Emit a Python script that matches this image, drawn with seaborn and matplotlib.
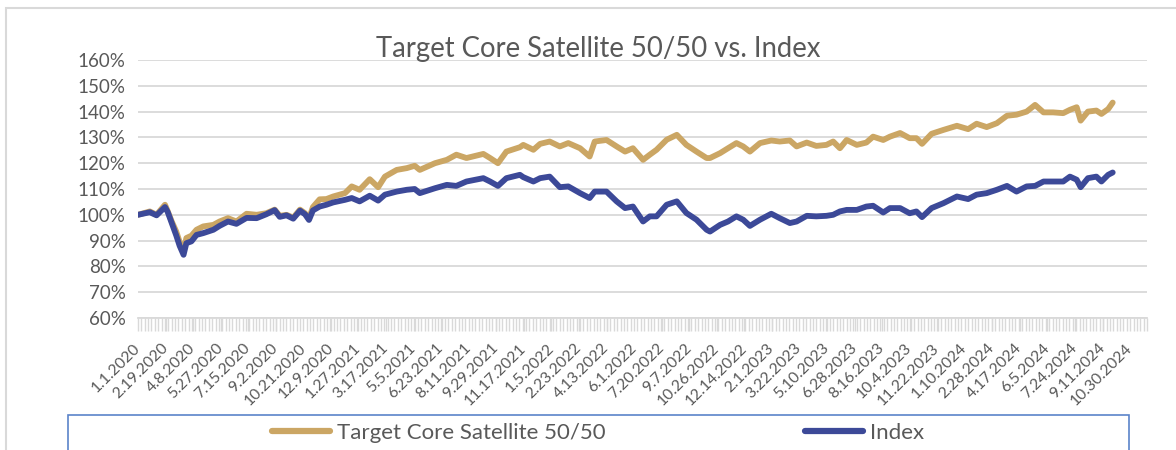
import pandas as pd
import numpy as np
import seaborn as sns
import matplotlib.pyplot as plt
import matplotlib.dates as mdates
from matplotlib.patches import Rectangle
from matplotlib.ticker import FuncFormatter, FixedLocator

# values (percent of start value)
dates = ["2020-01-01", "2020-01-22", "2020-02-03", "2020-02-18", "2020-02-23", "2020-03-01",
         "2020-03-09", "2020-03-15", "2020-03-22", "2020-03-27", "2020-04-05", "2020-04-14",
         "2020-04-26", "2020-05-14", "2020-05-25", "2020-06-09", "2020-06-24", "2020-07-12",
         "2020-07-30", "2020-08-16", "2020-08-31", "2020-09-09", "2020-09-21", "2020-10-03",
         "2020-10-15", "2020-10-24", "2020-10-31", "2020-11-07", "2020-11-19", "2020-12-01",
         "2020-12-13", "2021-01-03", "2021-01-15", "2021-01-29", "2021-02-16", "2021-03-03",
         "2021-03-15", "2021-04-05", "2021-04-23", "2021-05-07", "2021-05-16", "2021-06-12",
         "2021-07-03", "2021-07-20", "2021-08-07", "2021-09-06", "2021-09-18", "2021-10-02",
         "2021-10-17", "2021-11-10", "2021-11-16", "2021-12-04", "2021-12-16", "2022-01-02",
         "2022-01-20", "2022-02-04", "2022-02-25", "2022-03-14", "2022-03-23", "2022-04-13",
         "2022-05-01", "2022-05-16", "2022-05-30", "2022-06-17", "2022-06-29", "2022-07-11",
         "2022-07-29", "2022-08-16", "2022-09-02", "2022-09-20", "2022-10-08", "2022-10-14",
         "2022-11-01", "2022-11-15", "2022-11-30", "2022-12-12", "2022-12-24", "2023-01-11",
         "2023-01-31", "2023-02-15", "2023-03-05", "2023-03-17", "2023-04-04", "2023-04-21",
         "2023-05-09", "2023-05-21", "2023-06-02", "2023-06-14", "2023-07-02", "2023-07-19",
         "2023-07-31", "2023-08-18", "2023-08-30", "2023-09-17", "2023-10-04", "2023-10-16",
         "2023-10-26", "2023-11-12", "2023-12-03", "2023-12-27", "2024-01-16", "2024-01-31",
         "2024-02-18", "2024-03-07", "2024-03-25", "2024-04-11", "2024-04-29", "2024-05-14",
         "2024-05-29", "2024-06-15", "2024-07-03", "2024-07-15", "2024-07-27", "2024-08-03",
         "2024-08-16", "2024-08-31", "2024-09-09", "2024-09-21", "2024-09-29"]

core_sat = [100.0, 101.3, 100.0, 103.9, 101.3, 97.4,
            93.5, 89.5, 85.8, 91.0, 91.9, 94.2,
            95.5, 96.1, 97.4, 98.7, 97.4, 100.4,
            100.0, 100.6, 102.0, 99.6, 100.0, 98.9,
            102.0, 100.6, 98.5, 103.0, 106.0, 106.1,
            107.1, 108.4, 111.0, 109.7, 113.8, 110.7,
            114.8, 117.4, 118.1, 119.0, 117.4, 120.0,
            121.3, 123.3, 122.0, 123.6, 122.0, 120.0,
            124.5, 126.2, 127.1, 125.2, 127.5, 128.4,
            126.5, 127.8, 125.8, 122.6, 128.4, 129.0,
            126.5, 124.5, 125.8, 121.3, 123.3, 125.2,
            129.1, 131.0, 127.1, 124.5, 122.0, 122.0,
            123.9, 125.8, 127.8, 126.5, 124.5, 127.8,
            128.8, 128.4, 128.8, 126.5, 128.0, 126.7,
            127.1, 128.4, 125.8, 129.0, 127.1, 128.0,
            130.3, 129.0, 130.3, 131.7, 129.7, 129.7,
            127.5, 131.4, 132.9, 134.5, 133.2, 135.3,
            134.0, 135.5, 138.4, 138.8, 140.0, 142.6,
            139.7, 139.7, 139.4, 140.7, 141.7, 136.5,
            140.0, 140.4, 139.1, 141.0, 143.5]

index_vals = [100.0, 101.0, 99.8, 103.0, 101.0, 96.8,
              92.0, 88.0, 84.5, 89.0, 89.7, 92.2,
              92.9, 94.2, 95.7, 97.4, 96.5, 98.8,
              98.7, 100.2, 101.8, 99.2, 99.8, 98.5,
              101.6, 100.2, 98.0, 101.7, 103.2, 103.9,
              104.8, 105.8, 106.5, 105.2, 107.4, 105.5,
              107.8, 109.0, 109.7, 110.0, 108.4, 110.3,
              111.6, 111.2, 112.9, 114.2, 112.9, 111.2,
              114.2, 115.5, 114.6, 112.9, 114.2, 114.8,
              110.7, 111.0, 108.4, 106.5, 109.0, 109.0,
              105.2, 102.6, 103.2, 97.4, 99.4, 99.4,
              103.9, 105.2, 100.7, 98.1, 94.2, 93.5,
              96.1, 97.4, 99.4, 98.1, 95.7, 98.1,
              100.4, 98.7, 96.8, 97.4, 99.6, 99.4,
              99.6, 100.0, 101.3, 101.9, 101.9, 103.2,
              103.5, 100.9, 102.6, 102.6, 100.6, 101.3,
              99.1, 102.6, 104.5, 107.1, 106.1, 107.8,
              108.4, 109.7, 111.2, 109.0, 111.0, 111.2,
              112.9, 112.9, 112.9, 114.8, 113.6, 110.7,
              114.2, 114.8, 112.9, 115.5, 116.4]

tick_dates = ["2020-01-01", "2020-02-19", "2020-04-08", "2020-05-27", "2020-07-15", "2020-09-02",
              "2020-10-21", "2020-12-09", "2021-01-27", "2021-03-17", "2021-05-05", "2021-06-23",
              "2021-08-11", "2021-09-29", "2021-11-17", "2022-01-05", "2022-02-23", "2022-04-13",
              "2022-06-01", "2022-07-20", "2022-09-07", "2022-10-26", "2022-12-14", "2023-02-01",
              "2023-03-22", "2023-05-10", "2023-06-28", "2023-08-16", "2023-10-04", "2023-11-22",
              "2024-01-10", "2024-02-28", "2024-04-17", "2024-06-05", "2024-07-24", "2024-09-11",
              "2024-10-30"]

series_names = ["Target Core Satellite 50/50", "Index"]
colors = {"Target Core Satellite 50/50": "#CBA664", "Index": "#3C4998"}

df = pd.DataFrame({"date": pd.to_datetime(dates),
                   series_names[0]: core_sat,
                   series_names[1]: index_vals})
long_df = df.melt(id_vars="date", var_name="series", value_name="value")

sns.set_theme(style="white")
plt.rcParams["font.family"] = ["Lato", "DejaVu Sans"]
text_col = "#595959"
grid_col = "#d9d9d9"

fig = plt.figure(figsize=(11.76, 4.5), dpi=100)
ax = fig.add_axes([138 / 1176, 1 - 318 / 450, (1147 - 138) / 1176, (318 - 60) / 450])

sns.lineplot(data=long_df, x="date", y="value", hue="series", hue_order=series_names,
             palette=colors, linewidth=4.2, ax=ax, legend=False)

ax.set_ylim(60, 160)
ax.set_yticks(np.arange(60, 161, 10))
ax.yaxis.set_major_formatter(FuncFormatter(lambda v, p: f"{v:.0f}%"))
ax.grid(axis="y", color=grid_col, linewidth=1.3)
ax.set_axisbelow(True)

x0 = pd.Timestamp("2020-01-01")
x1 = pd.Timestamp("2024-11-29")
ax.set_xlim(x0, x1)
tick_ts = pd.to_datetime(tick_dates)
ax.set_xticks(tick_ts)
ax.set_xticklabels([f"{d.month}.{d.day}.{d.year}" for d in tick_ts],
                   rotation=45, ha="right", va="center", rotation_mode="anchor")
minor_pos = np.arange(mdates.date2num(x0), mdates.date2num(x1) + 0.5, 6)
ax.xaxis.set_minor_locator(FixedLocator(minor_pos))
ax.tick_params(axis="x", which="both", bottom=True, length=9, width=1, color=grid_col,
               labelsize=11.3, labelcolor=text_col, pad=11)
ax.tick_params(axis="y", left=False, labelsize=13.5, labelcolor=text_col, pad=3)
ax.set_xlabel("")
ax.set_ylabel("")
for s in ["left", "right", "top"]:
    ax.spines[s].set_visible(False)
ax.spines["bottom"].set_color(grid_col)
ax.spines["bottom"].set_linewidth(1.3)

fig.text(598 / 1176, 1 - 49 / 450, "Target Core Satellite 50/50 vs. Index",
         ha="center", va="center", fontsize=19.8, color=text_col)

# outer chart border and legend box
fig.add_artist(Rectangle((6 / 1176, -0.2), 1.2, 1.182, transform=fig.transFigure,
                         fill=False, edgecolor=grid_col, linewidth=1.5))
fig.add_artist(Rectangle((68 / 1176, -0.2), (1129 - 68) / 1176, 0.2 + 1 - 415 / 450,
                         transform=fig.transFigure, fill=False, edgecolor="#5b84c9",
                         linewidth=1.2))

handles = [plt.Line2D([], [], color=colors[n], linewidth=4.5) for n in series_names]
fig.legend(handles, series_names, loc="center", bbox_to_anchor=(598 / 1176, 1 - 433 / 450),
           ncol=2, frameon=False, fontsize=16, labelcolor=text_col,
           handlelength=2.6, handletextpad=0.3, columnspacing=9)

fig.savefig("out.png", dpi=100)
